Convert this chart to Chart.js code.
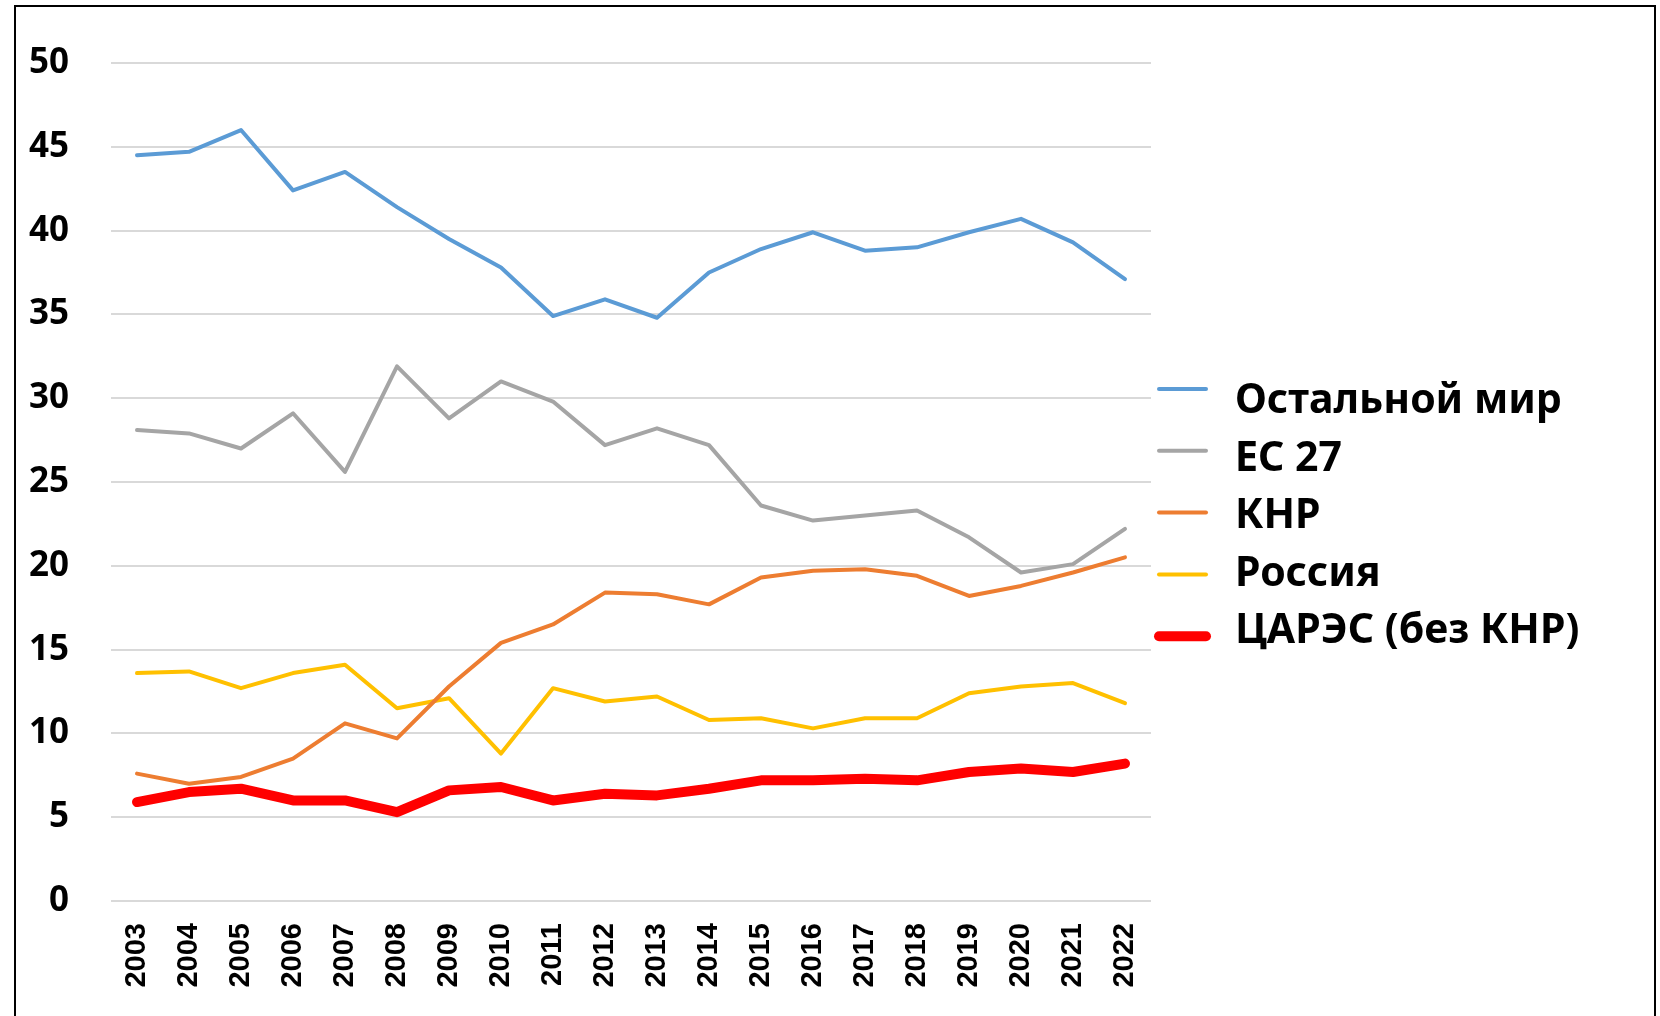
<!DOCTYPE html>
<html lang="ru">
<head>
<meta charset="utf-8">
<title>Доли в торговле</title>
<script src="https://cdn.jsdelivr.net/npm/chart.js@4.4.1/dist/chart.umd.min.js"></script>
<style>
  html, body { margin: 0; padding: 0; background: #fff; }
  body { width: 1660px; height: 1016px; position: relative; overflow: hidden; }
  #frame {
    position: absolute; left: 14px; top: 5px; width: 1642px; height: 1100px;
    border: 2px solid #000; box-sizing: border-box; pointer-events: none;
  }
  #grafico { position: absolute; left: 0; top: 0; }
</style>
</head>
<body>
<div id="frame"></div>
<canvas id="grafico" width="1660" height="1016"></canvas>
<script>
// Годы (категории)
const anios = ["2003", "2004", "2005", "2006", "2007", "2008", "2009", "2010", "2011", "2012",
  "2013", "2014", "2015", "2016", "2017", "2018", "2019", "2020", "2021", "2022"];

// Ряды
const ostalnoyMir = [44.5, 44.7, 46.0, 42.4, 43.5, 41.4, 39.5, 37.8, 34.9, 35.9,
  34.8, 37.5, 38.9, 39.9, 38.8, 39.0, 39.9, 40.7, 39.3, 37.1];
const es27 = [28.1, 27.9, 27.0, 29.1, 25.6, 31.9, 28.8, 31.0, 29.8, 27.2,
  28.2, 27.2, 23.6, 22.7, 23.0, 23.3, 21.7, 19.6, 20.1, 22.2];
const knr = [7.6, 7.0, 7.4, 8.5, 10.6, 9.7, 12.8, 15.4, 16.5, 18.4,
  18.3, 17.7, 19.3, 19.7, 19.8, 19.4, 18.2, 18.8, 19.6, 20.5];
const rossiya = [13.6, 13.7, 12.7, 13.6, 14.1, 11.5, 12.1, 8.8, 12.7, 11.9,
  12.2, 10.8, 10.9, 10.3, 10.9, 10.9, 12.4, 12.8, 13.0, 11.8];
const cares = [5.9, 6.5, 6.7, 6.0, 6.0, 5.3, 6.6, 6.8, 6.0, 6.4,
  6.3, 6.7, 7.2, 7.2, 7.3, 7.2, 7.7, 7.9, 7.7, 8.2];

// Ось Y
const yMin = 0, yMax = 50, yStep = 5;

// Легенда рисуется справа на холсте
const leyendaPlugin = {
  id: "leyenda",
  afterDraw(chart) {
    const ctx = chart.ctx;
    ctx.save();
    chart.data.datasets.forEach((ds, i) => {
      const yLinea = 389 + i * 61.8;
      ctx.strokeStyle = ds.borderColor;
      ctx.lineWidth = ds.borderWidth;
      ctx.lineCap = "round";
      ctx.beginPath();
      ctx.moveTo(1159, yLinea);
      ctx.lineTo(1206, yLinea);
      ctx.stroke();
      ctx.fillStyle = "#000";
      ctx.font = "bold 41px 'Noto Sans'";
      ctx.textBaseline = "alphabetic";
      ctx.textAlign = "left";
      ctx.fillText(ds.label, 1235, 413 + i * 57.5);
    });
    ctx.restore();
  }
};

function serie(label, data, color, ancho) {
  return {
    label: label,
    data: data,
    borderColor: color,
    backgroundColor: color,
    borderWidth: ancho,
    pointRadius: 0,
    pointHoverRadius: 0,
    tension: 0,
    borderJoinStyle: "round",
    borderCapStyle: "round",
    fill: false
  };
}

const ctx = document.getElementById("grafico").getContext("2d");
new Chart(ctx, {
  type: "line",
  data: {
    labels: anios,
    datasets: [
      serie("Остальной мир", ostalnoyMir, "#5B9BD5", 4),
      serie("ЕС 27", es27, "#A5A5A5", 4),
      serie("КНР", knr, "#ED7D31", 4),
      serie("Россия", rossiya, "#FFC000", 4),
      serie("ЦАРЭС (без КНР)", cares, "#FF0000", 10)
    ]
  },
  options: {
    responsive: false,
    animation: false,
    devicePixelRatio: 1,
    layout: { padding: { top: 63, right: 509, bottom: 0, left: 0 } },
    plugins: {
      legend: { display: false },
      tooltip: { enabled: false }
    },
    scales: {
      x: {
        offset: true,
        grid: { display: false, drawTicks: false },
        border: { display: false },
        ticks: {
          color: "#000",
          font: { family: "'Liberation Sans', Arial", weight: "bold", size: 29 },
          minRotation: 90,
          maxRotation: 90,
          padding: 22,
          autoSkip: false
        },
        afterFit(scale) { scale.height = 115; }
      },
      y: {
        min: yMin,
        max: yMax,
        grid: { color: "#D9D9D9", lineWidth: 2, drawTicks: false },
        border: { display: false },
        ticks: {
          stepSize: yStep,
          color: "#000",
          font: { family: "'Noto Sans'", weight: "bold", size: 35 },
          padding: 42
        },
        afterFit(scale) { scale.width = 111; }
      }
    }
  },
  plugins: [leyendaPlugin]
});
</script>
</body>
</html>
